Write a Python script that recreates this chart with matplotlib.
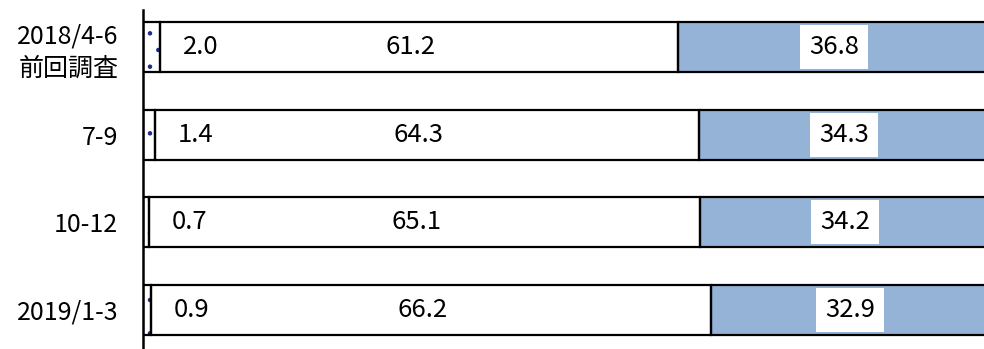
import numpy as np
import matplotlib.pyplot as plt

plt.rcParams['font.family'] = ['Noto Sans CJK JP', 'DejaVu Sans']
plt.rcParams['hatch.linewidth'] = 0.8

# data
periods = ['2018/4-6\n前回調査', '7-9', '10-12', '2019/1-3']
small = [2.0, 1.4, 0.7, 0.9]
middle = [61.2, 64.3, 65.1, 66.2]
right = [36.8, 34.3, 34.2, 32.9]

blue = '#95B3D7'
y = np.arange(len(periods))
h = 0.57

fig = plt.figure(figsize=(9.84, 3.49), dpi=100)
ax = fig.add_axes([0.1455, 0, 0.86, 339 / 349])

small = np.array(small)
middle = np.array(middle)
right = np.array(right)
left_mid = small
left_right = small + middle

# fills
ax.barh(y, small, height=h, left=0, color='white', hatch='.', edgecolor='#1F2A8A',
        linewidth=0, zorder=1)
ax.barh(y, middle, height=h, left=left_mid, color='white', linewidth=0, zorder=1)
ax.barh(y, right, height=h, left=left_right, color=blue, linewidth=0, zorder=1)

# labels with white boxes
box = dict(boxstyle='square,pad=0.35', facecolor='white', edgecolor='none')
for i in range(len(periods)):
    ax.text(small[i] + 4.8, y[i], f'{small[i]:.1f}', ha='center', va='center',
            fontsize=18.5, zorder=2)
    ax.text(left_mid[i] + middle[i] / 2 - 1, y[i], f'{middle[i]:.1f}', ha='center',
            va='center', fontsize=18.5, zorder=2)
    ax.text(left_right[i] + right[i] / 2, y[i], f'{right[i]:.1f}', ha='center',
            va='center', fontsize=18.5, bbox=box, zorder=2)

# outlines on top
for left, w in [(0, small), (left_mid, middle), (left_right, right)]:
    ax.barh(y, w, height=h, left=left, facecolor='none', edgecolor='black',
            linewidth=1.6, zorder=3)

ax.set_xlim(0, 100)
ax.set_ylim(3.445, -0.42)
ax.set_yticks(y)
ax.set_yticklabels(periods, fontsize=18, linespacing=1.3)
ax.tick_params(axis='y', length=0, pad=18)
ax.set_xticks([])
for s in ['top', 'right', 'bottom']:
    ax.spines[s].set_visible(False)
ax.spines['left'].set_linewidth(1.8)

fig.savefig('out.png', dpi=100)
